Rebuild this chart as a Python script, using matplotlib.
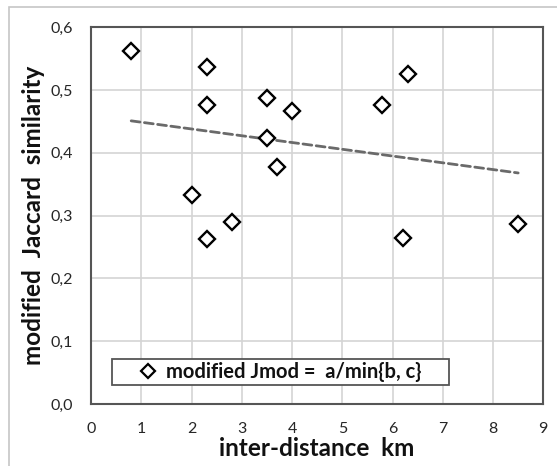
import matplotlib
matplotlib.use("Agg")
import matplotlib.pyplot as plt
from matplotlib.patches import Rectangle
from matplotlib.ticker import FuncFormatter

# ---- data ----
distance_km = [0.8, 2.3, 2.3, 3.5, 4.0, 5.8, 6.3, 3.5, 3.7, 2.0, 2.8, 8.5, 2.3, 6.2]
jmod = [0.562, 0.537, 0.476, 0.487, 0.467, 0.476, 0.525, 0.423, 0.378, 0.333,
        0.290, 0.287, 0.263, 0.264]
trend_x = [0.8, 8.5]
trend_y = [0.451, 0.368]
x_ticks = [0, 1, 2, 3, 4, 5, 6, 7, 8, 9]
y_ticks = [0.0, 0.1, 0.2, 0.3, 0.4, 0.5, 0.6]
series_label = "modified Jmod =  a/min{b, c}"
x_label = "inter-distance  km"
y_label = "modified  Jaccard  similarity"

plt.rcParams['font.family'] = ['Lato', 'DejaVu Sans']

W, H = 557, 466
fig = plt.figure(figsize=(W / 100, H / 100), dpi=100)
fig.patch.set_facecolor('white')

# outer chart-area border (only top/left visible)
fig.add_artist(Rectangle((9 / W, -0.05), 1.0, 1 - 7 / H + 0.05,
                         transform=fig.transFigure, fill=False,
                         ec='#c6c6c6', lw=1.2))

ax = fig.add_axes([91 / W, 1 - 404 / H, (543.3 - 91) / W, (404 - 27.3) / H])

ax.plot(distance_km, jmod, linestyle='none', marker='D', ms=8.6,
        mfc='white', mec='black', mew=1.7, label=series_label, zorder=3)
ax.plot(trend_x, trend_y, color='#6a6a6a', lw=2.0, dashes=(3.2, 1.6),
        dash_capstyle='round', zorder=2)

ax.set_xlim(0, 9)
ax.set_ylim(0, 0.6)
ax.set_xticks(x_ticks)
ax.set_yticks(y_ticks)
ax.yaxis.set_major_formatter(FuncFormatter(lambda v, p: f"{v:.1f}".replace('.', ',')))
ax.tick_params(length=0, labelsize=11.5, colors='#262626')
ax.tick_params(axis='x', pad=13)
ax.tick_params(axis='y', pad=13)

ax.grid(True, color='#d4d4d4', lw=1.2)
ax.set_axisbelow(True)
for s in ax.spines.values():
    s.set_color('#555555')
    s.set_linewidth(1.5)

ax.set_xlabel(x_label, fontsize=17.5, fontweight='bold', color='#111111', labelpad=1)
ax.set_ylabel(y_label, fontsize=17.5, fontweight='bold', color='#111111', labelpad=4)

leg = ax.legend(loc='lower left',
                bbox_to_anchor=(21 / 452.3, 19 / 376.7, 337 / 452.3, 30 / 376.7),
                mode='expand', borderaxespad=0,
                prop={'weight': 'bold', 'size': 14.5},
                handlelength=3.28, handletextpad=-0.75, borderpad=0.15,
                fancybox=False, edgecolor='#555555', framealpha=1)
leg.get_frame().set_linewidth(1.3)
for t in leg.get_texts():
    t.set_color('#111111')
for h in leg.legend_handles:
    h.set_markersize(7)
    h.set_markeredgewidth(1.6)

fig.savefig('out.png', dpi=100)
